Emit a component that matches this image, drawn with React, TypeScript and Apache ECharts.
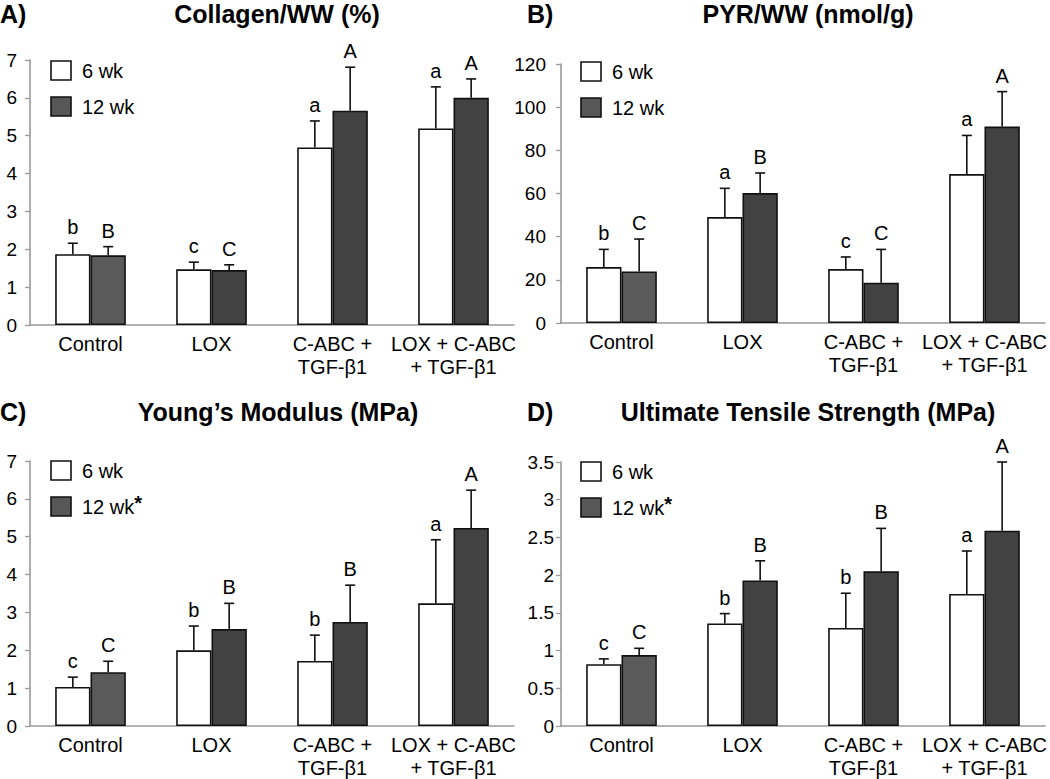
import React, { useEffect, useRef } from 'react';
import * as echarts from 'echarts';

const categories = ['Control', 'LOX', 'C-ABC +\nTGF-β1', 'LOX + C-ABC\n+ TGF-β1'];

// Panel A: Collagen/WW (%)
const collagen6 = [1.87, 1.47, 4.69, 5.19];
const collagen6Top = [2.16, 1.66, 5.39, 6.29];
const collagen12 = [1.84, 1.45, 5.66, 6.0];
const collagen12Top = [2.07, 1.59, 6.81, 6.5];
const collagen6Letters = ['b', 'c', 'a', 'a'];
const collagen12Letters = ['B', 'C', 'A', 'A'];

// Panel B: PYR/WW (nmol/g)
const pyr6 = [25.9, 49.1, 25.0, 69.0];
const pyr6Top = [34.1, 62.4, 30.6, 86.9];
const pyr12 = [23.9, 60.2, 18.7, 91.0];
const pyr12Top = [38.9, 69.5, 34.1, 107.2];
const pyr6Letters = ['b', 'a', 'c', 'a'];
const pyr12Letters = ['C', 'B', 'C', 'A'];

// Panel C: Young's Modulus (MPa)
const ym6 = [1.03, 2.0, 1.72, 3.24];
const ym6Top = [1.29, 2.64, 2.4, 4.92];
const ym12 = [1.42, 2.56, 2.75, 5.23];
const ym12Top = [1.71, 3.24, 3.72, 6.23];
const ym6Letters = ['c', 'b', 'b', 'a'];
const ym12Letters = ['C', 'B', 'B', 'A'];

// Panel D: Ultimate Tensile Strength (MPa)
const uts6 = [0.82, 1.36, 1.3, 1.75];
const uts6Top = [0.89, 1.49, 1.76, 2.32];
const uts12 = [0.94, 1.93, 2.05, 2.59];
const uts12Top = [1.03, 2.19, 2.62, 3.5];
const uts6Letters = ['c', 'b', 'b', 'a'];
const uts12Letters = ['C', 'B', 'B', 'A'];

const yMaxes = [7, 120, 7, 3.5];
const yIntervals = [1, 20, 1, 0.5];

const FONT = '"Liberation Sans", Arial, sans-serif';
const BAR_FRAC = 0.292;
const WHITE = '#ffffff';
const DARK = '#424242';
const DARK_CONTROL = '#5a5a5a';

const grids = [
  { left: 30, top: 60, width: 484, height: 265 },
  { left: 561, top: 64, width: 484, height: 259 },
  { left: 30, top: 461, width: 484, height: 266 },
  { left: 561, top: 462, width: 484, height: 264 },
];
const yLabelMargins = [13, 15, 13, 7];

const panels = [
  { v6: collagen6, t6: collagen6Top, v12: collagen12, t12: collagen12Top, l6: collagen6Letters, l12: collagen12Letters },
  { v6: pyr6, t6: pyr6Top, v12: pyr12, t12: pyr12Top, l6: pyr6Letters, l12: pyr12Letters },
  { v6: ym6, t6: ym6Top, v12: ym12, t12: ym12Top, l6: ym6Letters, l12: ym12Letters },
  { v6: uts6, t6: uts6Top, v12: uts12, t12: uts12Top, l6: uts6Letters, l12: uts12Letters },
];

const titles = [
  { tag: 'A)', text: 'Collagen/WW (%)', tagX: 0, cx: 277, cy: 14 },
  { tag: 'B)', text: 'PYR/WW (nmol/g)', tagX: 527, cx: 808, cy: 14 },
  { tag: 'C)', text: 'Young\u2019s Modulus (MPa)', tagX: 0, cx: 278, cy: 412 },
  { tag: 'D)', text: 'Ultimate Tensile Strength (MPa)', tagX: 527, cx: 808, cy: 412 },
];

const legendPos = [
  { x: 51, y: 61, star: false },
  { x: 581, y: 62, star: false },
  { x: 51, y: 461, star: true },
  { x: 581, y: 462, star: true },
];

function buildOption() {
  const series: any[] = [];
  panels.forEach((p, gi) => {
    series.push({
      type: 'bar',
      name: '6 wk',
      xAxisIndex: gi,
      yAxisIndex: gi,
      barWidth: BAR_FRAC * 100 + '%',
      barGap: '0%',
      data: p.v6,
      itemStyle: { color: WHITE, borderColor: '#111', borderWidth: 1.6 },
    });
    series.push({
      type: 'bar',
      name: '12 wk',
      xAxisIndex: gi,
      yAxisIndex: gi,
      barWidth: BAR_FRAC * 100 + '%',
      barGap: '0%',
      data: p.v12.map((v, i) => ({ value: v, itemStyle: { color: i === 0 ? DARK_CONTROL : DARK } })),
      itemStyle: { color: DARK, borderColor: '#111', borderWidth: 1.6 },
    });
    const errData: number[][] = [];
    const letters: string[] = [];
    p.v6.forEach((v, i) => {
      errData.push([i, 0, v, p.t6[i]]);
      letters.push(p.l6[i]);
      errData.push([i, 1, p.v12[i], p.t12[i]]);
      letters.push(p.l12[i]);
    });
    series.push({
      type: 'custom',
      xAxisIndex: gi,
      yAxisIndex: gi,
      data: errData,
      z: 5,
      renderItem: (params: any, api: any) => {
        const idx = api.value(0);
        const g = api.value(1);
        const base = api.coord([idx, api.value(2)]);
        const top = api.coord([idx, api.value(3)]);
        const band = api.size([1, 0])[0];
        const bw = band * BAR_FRAC;
        const x = base[0] + (g === 0 ? -bw / 2 : bw / 2);
        const ls = { stroke: '#111', lineWidth: 1.6 };
        return {
          type: 'group',
          children: [
            { type: 'line', shape: { x1: x, y1: base[1], x2: x, y2: top[1] }, style: ls },
            { type: 'line', shape: { x1: x - 5, y1: top[1], x2: x + 5, y2: top[1] }, style: ls },
            {
              type: 'text',
              x: x,
              y: top[1] - 6,
              style: {
                text: letters[params.dataIndex],
                fontSize: 20,
                fontFamily: FONT,
                fill: '#000',
                align: 'center',
                verticalAlign: 'bottom',
              },
            },
          ],
        };
      },
    });
  });

  const graphic: any[] = [];
  titles.forEach((t) => {
    graphic.push({
      type: 'text',
      x: t.tagX,
      y: t.cy,
      style: { text: t.tag, fontSize: 25, fontWeight: 'bold', fontFamily: FONT, fill: '#000', align: 'left', verticalAlign: 'middle' },
    });
    graphic.push({
      type: 'text',
      x: t.cx,
      y: t.cy,
      style: { text: t.text, fontSize: 25, fontWeight: 'bold', fontFamily: FONT, fill: '#000', align: 'center', verticalAlign: 'middle' },
    });
  });
  legendPos.forEach((l) => {
    graphic.push({
      type: 'rect',
      shape: { x: l.x, y: l.y, width: 20, height: 19 },
      style: { fill: WHITE, stroke: '#111', lineWidth: 1.6 },
    });
    graphic.push({
      type: 'rect',
      shape: { x: l.x, y: l.y + 36, width: 20, height: 19 },
      style: { fill: '#575757', stroke: '#111', lineWidth: 1.6 },
    });
    graphic.push({
      type: 'text',
      x: l.x + 31,
      y: l.y + 10,
      style: { text: '6 wk', fontSize: 20, fontFamily: FONT, fill: '#000', align: 'left', verticalAlign: 'middle' },
    });
    graphic.push({
      type: 'text',
      x: l.x + 31,
      y: l.y + 46,
      style: {
        text: l.star ? '12 wk{s|*}' : '12 wk',
        fontSize: 20,
        fontFamily: FONT,
        fill: '#000',
        align: 'left',
        verticalAlign: 'middle',
        rich: { s: { fontSize: 20, fontWeight: 'bold', fontFamily: FONT, fill: '#000', padding: [0, 0, 8, 0] } },
      },
    });
  });

  return {
    animation: false,
    backgroundColor: '#ffffff',
    grid: grids.map((g) => ({ ...g, containLabel: false })),
    xAxis: grids.map((_, gi) => ({
      type: 'category',
      gridIndex: gi,
      data: categories,
      axisLine: { show: true, lineStyle: { color: '#9a9a9a', width: 1.6 } },
      axisTick: { show: false },
      axisLabel: { interval: 0, fontSize: 20, lineHeight: 23, color: '#000', fontFamily: FONT, margin: 7 },
      splitLine: { show: false },
    })),
    yAxis: grids.map((_, gi) => ({
      type: 'value',
      gridIndex: gi,
      min: 0,
      max: yMaxes[gi],
      interval: yIntervals[gi],
      axisLine: { show: true, lineStyle: { color: '#9a9a9a', width: 1.6 } },
      axisTick: { show: true, length: 5, lineStyle: { color: '#9a9a9a', width: 1.3 } },
      axisLabel: { fontSize: 19, color: '#000', fontFamily: FONT, margin: yLabelMargins[gi] },
      splitLine: { show: false },
    })),
    graphic,
    series,
  };
}

export default function App() {
  const ref = useRef<HTMLDivElement>(null);
  useEffect(() => {
    if (!ref.current) return;
    const chart = echarts.init(ref.current, undefined, { renderer: 'svg' });
    chart.setOption(buildOption() as any);
    return () => chart.dispose();
  }, []);
  return (
    <div
      ref={ref}
      style={{ position: 'absolute', left: 0, top: 0, width: 1050, height: 779, background: '#fff' }}
    />
  );
}
